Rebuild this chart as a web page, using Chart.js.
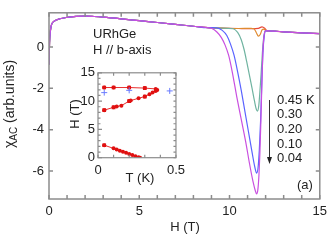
<!DOCTYPE html>
<html><head><meta charset="utf-8">
<script src="https://cdn.jsdelivr.net/npm/chart.js@4.4.0/dist/chart.umd.min.js"></script>
<style>
html,body{margin:0;padding:0;background:#fff;}
#wrap{position:relative;width:332px;height:241px;overflow:hidden;}
#main{position:absolute;left:0;top:0;}
#inset{position:absolute;left:55px;top:62px;}
</style></head><body>
<div id="wrap"><canvas id="main" width="332" height="241"></canvas><canvas id="inset" width="135" height="125"></canvas></div>
<script>
// ---------- data: main panel (H in T, chi_AC in arb. units) ----------
const tempLabels = ['0.45 K', '0.30', '0.20', '0.10', '0.04'];
const xTicks = [0, 5, 10, 15];
const yTicks = [0, -2, -4, -6];
const xMinor = [0,1,2,3,4,5,6,7,8,9,10,11,12,13,14,15];

const baseH = [0, 0.03, 0.08, 0.15, 0.3, 0.6, 1.0, 1.5, 2.0, 2.5, 3, 4, 5, 6, 7, 8, 8.8];
const baseV = [-0.85, 0.2, 0.8, 1.1, 1.25, 1.36, 1.43, 1.48, 1.49, 1.47, 1.44, 1.36, 1.27, 1.18, 1.09, 1.0, 0.93];
const tailH = [12.1, 12.5, 13, 14, 15];
const tailV = [0.78, 0.76, 0.73, 0.68, 0.64];

const dipH45 = [9.5, 10.5, 11.2, 11.6, 11.8, 11.95, 12.05];
const dipV45 = [0.91, 0.89, 0.88, 0.9, 0.97, 0.9, 0.8];
const dipH30 = [9.5, 10.5, 11.2, 11.35, 11.48, 11.6, 11.7, 11.8, 11.9, 12.0];
const dipV30 = [0.91, 0.89, 0.9, 0.88, 0.7, 0.52, 0.6, 0.82, 0.86, 0.8];
const dipH20 = [9.5, 10.2, 10.45, 10.65, 10.8, 10.95, 11.1, 11.25, 11.38, 11.48, 11.55, 11.62, 11.68, 11.75, 11.82, 11.9, 12.0];
const dipV20 = [0.91, 0.88, 0.7, 0.35, -0.1, -0.7, -1.35, -2.0, -2.6, -3.0, -3.1, -2.85, -2.2, -1.3, -0.3, 0.5, 0.78];
const dipH10 = [9.3, 9.6, 9.85, 10.05, 10.25, 10.45, 10.65, 10.85, 11.05, 11.25, 11.4, 11.5, 11.58, 11.65, 11.72, 11.78, 11.85, 11.92, 12.0];
const dipV10 = [0.92, 0.8, 0.55, 0.15, -0.4, -1.2, -2.1, -3.1, -4.1, -5.1, -5.8, -6.1, -5.85, -5.0, -3.6, -2.0, -0.3, 0.5, 0.78];
const dipH04 = [9.0, 9.3, 9.55, 9.75, 9.95, 10.15, 10.4, 10.65, 10.9, 11.1, 11.3, 11.43, 11.5, 11.57, 11.63, 11.68, 11.73, 11.78, 11.84, 11.9, 12.0];
const dipV04 = [0.9, 0.72, 0.45, 0.1, -0.4, -1.2, -2.4, -3.5, -4.6, -5.6, -6.5, -6.95, -7.1, -6.9, -6.2, -5.2, -3.8, -2.2, -0.4, 0.45, 0.78];

// ---------- data: inset (T in K, H in T) ----------
const phaseT = [0.04, 0.10, 0.12, 0.15, 0.20, 0.21, 0.26, 0.30, 0.33, 0.35, 0.37, 0.38, 0.37, 0.30, 0.20, 0.10, 0.04];
const phaseH = [8.4, 8.9, 9.05, 9.2, 10.0, 10.1, 10.5, 10.8, 11.2, 11.5, 11.8, 11.95, 12.15, 12.3, 12.4, 12.4, 12.4];
const lowT = [0.04, 0.10, 0.12, 0.14, 0.16, 0.18, 0.20, 0.22, 0.24, 0.26, 0.27];
const lowH = [2.2, 1.65, 1.45, 1.25, 1.05, 0.87, 0.65, 0.47, 0.25, 0.08, 0.0];
const sqT = [0.04, 0.10, 0.20, 0.30, 0.04, 0.10, 0.20, 0.30, 0.04];
const sqH = [12.4, 12.4, 12.4, 12.3, 8.4, 8.9, 10.0, 10.8, 2.2];
const plusT = [0.04, 0.20, 0.46];
const plusH = [11.5, 11.9, 11.8];
const insetXTicks = [0, 0.5];
const insetYTicks = [0, 5, 10, 15];
const insetXMinor = [0,0.1,0.2,0.3,0.4,0.5];
const insetYMinor = [0,1,2,3,4,5,6,7,8,9,10,11,12,13,14,15];

const FONT = "'Liberation Sans', Arial, sans-serif";
const TXT = '#222';
const AXC = '#8c8c8c';

const pts = (xs, ys) => xs.map((x, i) => ({x, y: ys[i]}));
const curve = (dh, dv) => pts(baseH.concat(dh, tailH), baseV.concat(dv, tailV));

const colors = ['#e8483a', '#e08a30', '#6fb3a0', '#5a63ff', '#c94fe0'];
const dips = [[dipH45, dipV45], [dipH30, dipV30], [dipH20, dipV20], [dipH10, dipV10], [dipH04, dipV04]];
const mainSets = dips.map((d, i) => ({
  label: tempLabels[i], data: curve(d[0], d[1]), borderColor: colors[i], borderWidth: 1.2,
  pointRadius: 0, cubicInterpolationMode: 'monotone', order: 5 - i, fill: false
}));

function framePlugin(cfg) {
  return {
    id: 'frame' + cfg.name,
    afterDraw(chart) {
      const {ctx, chartArea: a, scales: {x, y}} = chart;
      ctx.save();
      ctx.strokeStyle = AXC; ctx.lineWidth = cfg.lw;
      ctx.beginPath();
      cfg.xMinor.forEach(v => { const p = x.getPixelForValue(v);
        ctx.moveTo(p, a.bottom); ctx.lineTo(p, a.bottom - cfg.xl);
        ctx.moveTo(p, a.top); ctx.lineTo(p, a.top + cfg.xl); });
      cfg.yMinor.forEach(v => { const p = y.getPixelForValue(v);
        const l = (cfg.yMajor && cfg.yMajor.includes(v)) ? cfg.ylMajor : cfg.yl;
        ctx.moveTo(a.left, p); ctx.lineTo(a.left + l, p);
        ctx.moveTo(a.right, p); ctx.lineTo(a.right - cfg.yl, p); });
      ctx.stroke();
      ctx.strokeRect(a.left, a.top, a.right - a.left, a.bottom - a.top);
      ctx.restore();
      if (cfg.text) cfg.text(ctx, chart);
    }
  };
}

function mainText(ctx) {
  ctx.save();
  ctx.fillStyle = TXT; ctx.textBaseline = 'middle'; ctx.textAlign = 'left';
  ctx.font = '13px ' + FONT;
  ctx.fillText('URhGe', 93, 34);
  ctx.fillText('H // b-axis', 93, 50);
  const ly = [100, 114.7, 129.4, 144.1, 158.8];
  tempLabels.forEach((t, i) => ctx.fillText(t, 277, ly[i]));
  ctx.fillText('(a)', 297, 185);
  ctx.font = '13px ' + FONT; ctx.textAlign = 'center';
  ctx.fillText('H (T)', 185, 227);
  // arrow
  ctx.strokeStyle = '#333'; ctx.lineWidth = 1;
  ctx.beginPath(); ctx.moveTo(269.5, 100); ctx.lineTo(269.5, 158); ctx.stroke();
  ctx.beginPath(); ctx.moveTo(267, 157); ctx.lineTo(272, 157); ctx.lineTo(269.5, 164); ctx.closePath(); ctx.fillStyle = '#222'; ctx.fill();
  // y title with subscript
  ctx.save();
  ctx.translate(14, 104); ctx.rotate(-Math.PI / 2);
  ctx.fillStyle = TXT; ctx.textBaseline = 'alphabetic'; ctx.textAlign = 'left';
  const f1 = '14px ' + FONT, f2 = '10px ' + FONT;
  ctx.font = f1; const w1 = ctx.measureText('\u03c7').width;
  ctx.font = f2; const w2 = ctx.measureText('AC').width;
  ctx.font = f1; const w3 = ctx.measureText(' (arb.units)').width;
  let x0 = -(w1 + w2 + w3) / 2;
  ctx.font = f1; ctx.fillText('\u03c7', x0, 0);
  ctx.font = f2; ctx.fillText('AC', x0 + w1, 3);
  ctx.font = f1; ctx.fillText(' (arb.units)', x0 + w1 + w2, 0);
  ctx.restore();
  ctx.restore();
}

new Chart(document.getElementById('main'), {
  type: 'line',
  data: {datasets: mainSets},
  options: {
    responsive: false, animation: false, devicePixelRatio: 1,
    layout: {padding: {top: 7, right: 11, left: 0, bottom: 0}},
    plugins: {legend: {display: false}, tooltip: {enabled: false}},
    scales: {
      x: {type: 'linear', min: 0, max: 15,
        afterBuildTicks: s => { s.ticks = xTicks.map(v => ({value: v})); },
        afterFit: s => { s.height = 42; },
        grid: {display: false, drawTicks: false}, border: {display: false},
        ticks: {font: {size: 13, family: FONT}, color: TXT, padding: 5, maxRotation: 0}},
      y: {type: 'linear', min: -7.35, max: 1.65,
        afterBuildTicks: s => { s.ticks = yTicks.map(v => ({value: v})); },
        afterFit: s => { s.width = 49; },
        grid: {display: false, drawTicks: false}, border: {display: false},
        ticks: {font: {size: 13, family: FONT}, color: TXT, padding: 5}}
    }
  },
  plugins: [framePlugin({name: 'm', lw: 1.5, xMinor: xMinor, yMinor: yTicks, xl: 4, yl: 4, ylMajor: 4, text: mainText})]
});

function insetText(ctx) {
  ctx.save();
  ctx.fillStyle = TXT; ctx.font = '13px ' + FONT; ctx.textAlign = 'center'; ctx.textBaseline = 'middle';
  ctx.fillText('T (K)', 85, 116);
  ctx.translate(20, 52); ctx.rotate(-Math.PI / 2);
  ctx.fillText('H (T)', 0, 0);
  ctx.restore();
}

new Chart(document.getElementById('inset'), {
  type: 'line',
  data: {datasets: [
    {data: pts(plusT, plusH), showLine: false, pointStyle: 'cross', pointRadius: 3, borderColor: '#6a7cff', borderWidth: 1, order: 0},
    {data: pts(sqT, sqH), showLine: false, pointStyle: 'rect', pointRadius: 2.6, backgroundColor: '#e01010', borderColor: '#e01010', borderWidth: 0, order: 1},
    {data: pts(phaseT, phaseH), borderColor: '#e83030', borderWidth: 1, pointRadius: 2, pointStyle: 'circle', backgroundColor: '#e01010', pointBorderWidth: 0, order: 2},
    {data: pts(lowT, lowH), borderColor: '#e83030', borderWidth: 1, pointRadius: 2, pointStyle: 'circle', backgroundColor: '#e01010', pointBorderWidth: 0, order: 3}
  ]},
  options: {
    responsive: false, animation: false, devicePixelRatio: 1,
    layout: {padding: {top: 10, right: 7.5, left: 0, bottom: 0}},
    plugins: {legend: {display: false}, tooltip: {enabled: false}},
    scales: {
      x: {type: 'linear', min: 0, max: 0.5,
        afterBuildTicks: s => { s.ticks = insetXTicks.map(v => ({value: v})); },
        afterFit: s => { s.height = 29.3; },
        grid: {display: false, drawTicks: false}, border: {display: false},
        ticks: {font: {size: 13, family: FONT}, color: TXT, padding: 5, maxRotation: 0}},
      y: {type: 'linear', min: 0, max: 15,
        afterBuildTicks: s => { s.ticks = insetYTicks.map(v => ({value: v})); },
        afterFit: s => { s.width = 43; },
        grid: {display: false, drawTicks: false}, border: {display: false},
        ticks: {font: {size: 13, family: FONT}, color: TXT, padding: 3}}
    }
  },
  plugins: [framePlugin({name: 'i', lw: 1.2, xMinor: insetXMinor, yMinor: insetYMinor, yMajor: insetYTicks, xl: 3, yl: 2.5, ylMajor: 4, text: insetText})]
});
</script>
</body></html>
